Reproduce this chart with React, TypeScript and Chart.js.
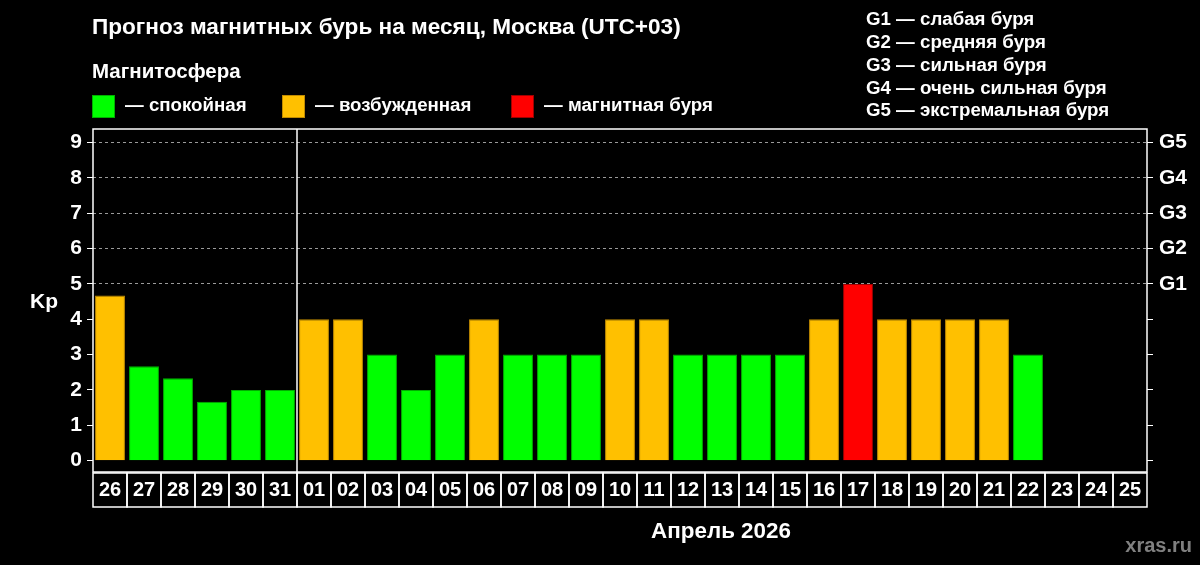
import React, { useEffect, useRef } from "react";
import { Chart, registerables } from "chart.js";

Chart.register(...registerables);

// ---- data ----
const days = [
  "26", "27", "28", "29", "30", "31",
  "01", "02", "03", "04", "05", "06", "07", "08", "09", "10",
  "11", "12", "13", "14", "15", "16", "17", "18", "19", "20",
  "21", "22", "23", "24", "25",
];
const kpValues: (number | null)[] = [
  4.67, 2.67, 2.33, 1.67, 2, 2,
  4, 4, 3, 2, 3, 4, 3, 3, 3, 4,
  4, 3, 3, 3, 3, 4, 5, 4, 4, 4,
  4, 3, null, null, null,
];
const kpTicks = [0, 1, 2, 3, 4, 5, 6, 7, 8, 9];
const stormTickLabels = ["", "", "", "", "", "G1", "G2", "G3", "G4", "G5"];
const stormDescriptions = [
  "G1 — слабая буря",
  "G2 — средняя буря",
  "G3 — сильная буря",
  "G4 — очень сильная буря",
  "G5 — экстремальная буря",
];
const legendLabels = ["— спокойная", "— возбужденная", "— магнитная буря"];
const legendColors = ["#00ff00", "#ffc000", "#ff0000"];
const legendBorders = ["#00b000", "#c08a00", "#a00000"];
const monthSplitIndex = 6; // first day of new month
const titleText = "Прогноз магнитных бурь на месяц, Москва (UTC+03)";
const subtitleText = "Магнитосфера";
const monthLabel = "Апрель 2026";
const yAxisLabel = "Kp";
const watermark = "xras.ru";

const FONT = "'Liberation Sans', Arial, Helvetica, sans-serif";

function levelIndex(v: number | null): number {
  if (v == null) return 0;
  if (v >= 5) return 2;
  if (v >= 4) return 1;
  return 0;
}

const decorPlugin = {
  id: "decor",
  beforeDraw(chart: any) {
    const ctx = chart.ctx;
    ctx.save();
    ctx.fillStyle = "#000";
    ctx.fillRect(0, 0, chart.width, chart.height);
    ctx.restore();
  },
  afterDraw(chart: any) {
    const ctx = chart.ctx;
    const area = chart.chartArea;
    const x = chart.scales.x;
    ctx.save();
    // frame
    ctx.strokeStyle = "#ffffff";
    ctx.lineWidth = 1.5;
    ctx.strokeRect(area.left, area.top, area.right - area.left, area.bottom - area.top);

    // month separator
    const step = x.getPixelForValue(1) - x.getPixelForValue(0);
    const sepX = x.getPixelForValue(monthSplitIndex) - step / 2;
    ctx.beginPath();
    ctx.moveTo(sepX, area.top);
    ctx.lineTo(sepX, area.bottom);
    ctx.stroke();

    // label boxes
    ctx.lineWidth = 1.5;
    for (let i = 0; i < days.length; i++) {
      const cx = x.getPixelForValue(i);
      ctx.strokeRect(cx - step / 2, area.bottom + 1, step, 34);
    }

    // texts
    ctx.fillStyle = "#ffffff";
    ctx.textBaseline = "middle";
    ctx.textAlign = "left";
    ctx.font = `bold 22.6px ${FONT}`;
    ctx.fillText(titleText, 92, 28);
    ctx.font = `bold 20.5px ${FONT}`;
    ctx.fillText(subtitleText, 92, 72);

    const legendX = [92, 282, 511];
    for (let i = 0; i < legendLabels.length; i++) {
      ctx.fillStyle = legendColors[i];
      ctx.fillRect(legendX[i], 95, 23, 23);
      ctx.strokeStyle = legendBorders[i];
      ctx.lineWidth = 1;
      ctx.strokeRect(legendX[i] + 0.5, 95.5, 22, 22);
      ctx.fillStyle = "#ffffff";
      ctx.font = `bold 18.7px ${FONT}`;
      ctx.fillText(legendLabels[i], legendX[i] + 33, 106);
    }

    ctx.font = `bold 18.7px ${FONT}`;
    for (let i = 0; i < stormDescriptions.length; i++) {
      ctx.fillText(stormDescriptions[i], 866, 20 + i * 22.8);
    }

    ctx.font = `bold 21px ${FONT}`;
    ctx.fillText(yAxisLabel, 30, 302);

    ctx.font = `bold 22.4px ${FONT}`;
    ctx.textAlign = "center";
    ctx.fillText(monthLabel, 721, 532);

    ctx.font = `bold 20px ${FONT}`;
    ctx.textAlign = "right";
    ctx.fillStyle = "#808080";
    ctx.textBaseline = "alphabetic";
    ctx.fillText(watermark, 1192, 552);
    ctx.restore();
  },
};

export default function App() {
  const canvasRef = useRef<HTMLCanvasElement | null>(null);

  useEffect(() => {
    document.body.style.margin = "0";
    document.body.style.background = "#000";
    const canvas = canvasRef.current;
    if (!canvas) return;
    const chart = new Chart(canvas, {
      type: "bar",
      data: {
        labels: days,
        datasets: [
          {
            data: kpValues,
            backgroundColor: kpValues.map((v) => legendColors[levelIndex(v)]),
            borderColor: kpValues.map((v) => legendBorders[levelIndex(v)]),
            borderWidth: 1,
            barPercentage: 0.88,
            categoryPercentage: 1,
          },
        ],
      },
      options: {
        responsive: false,
        animation: false,
        devicePixelRatio: 1,
        layout: { padding: { top: 129, left: 0, right: 0, bottom: 0 } },
        plugins: {
          legend: { display: false },
          title: { display: false },
          tooltip: { enabled: false },
        },
        scales: {
          x: {
            type: "category",
            offset: true,
            grid: { display: false, drawTicks: false },
            border: { display: false },
            ticks: {
              color: "#ffffff",
              font: { family: FONT, size: 20, weight: "bold" },
              padding: 6,
              maxRotation: 0,
              autoSkip: false,
            },
            afterFit(scale: any) {
              scale.height = 93;
            },
          },
          y: {
            type: "linear",
            position: "left",
            min: -0.32,
            max: 9.38,
            afterBuildTicks(scale: any) {
              scale.ticks = kpTicks.map((v) => ({ value: v }));
            },
            afterFit(scale: any) {
              scale.width = 93;
            },
            grid: {
              color: (c: any) => (c.tick && c.tick.value >= 5 ? "#9a9a9a" : "rgba(0,0,0,0)"),
              lineWidth: 1,
              tickColor: "#ffffff",
              tickLength: 6,
              drawTicks: true,
            },
            border: { display: false, dash: [3, 3] },
            ticks: {
              color: "#ffffff",
              font: { family: FONT, size: 21, weight: "bold" },
              padding: 5,
              callback: (v: any) => String(v),
            },
          },
          y2: {
            type: "linear",
            position: "right",
            min: -0.32,
            max: 9.38,
            afterBuildTicks(scale: any) {
              scale.ticks = kpTicks.map((v) => ({ value: v }));
            },
            afterFit(scale: any) {
              scale.width = 53;
            },
            grid: {
              drawOnChartArea: false,
              tickColor: "#ffffff",
              tickLength: 6,
            },
            border: { display: false },
            ticks: {
              color: "#ffffff",
              font: { family: FONT, size: 21, weight: "bold" },
              padding: 6,
              callback: (v: any) => stormTickLabels[kpTicks.indexOf(Number(v))] ?? "",
            },
          },
        },
      },
      plugins: [decorPlugin],
    });
    return () => chart.destroy();
  }, []);

  return (
    <div style={{ position: "fixed", left: 0, top: 0, width: 1200, height: 565, background: "#000" }}>
      <canvas ref={canvasRef} width={1200} height={565} style={{ width: 1200, height: 565 }} />
    </div>
  );
}
